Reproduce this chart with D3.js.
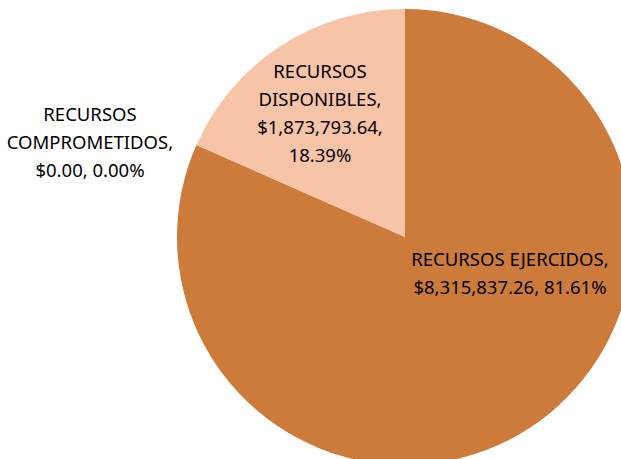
<!DOCTYPE html>
<html>
<head>
<meta charset="utf-8">
<script src="https://cdn.jsdelivr.net/npm/d3@7/dist/d3.min.js"></script>
<style>
body { margin: 0; background: #fff; }
</style>
</head>
<body>
<script>
var width = 621;
var height = 459;

var categories = ["RECURSOS EJERCIDOS", "RECURSOS COMPROMETIDOS", "RECURSOS DISPONIBLES"];
var amounts = [8315837.26, 0.00, 1873793.64];
var percents = ["81.61%", "0.00%", "18.39%"];
var colors = ["#CD7B3B", "#E09A63", "#F8C4A7"];

// label lines, as they wrap in the picture
var labelLines = [
	["RECURSOS EJERCIDOS,", "$8,315,837.26, 81.61%"],
	["RECURSOS", "COMPROMETIDOS,", "$0.00, 0.00%"],
	["RECURSOS", "DISPONIBLES,", "$1,873,793.64,", "18.39%"]
];
var labelPos = [[510, 260], [90, 115], [320, 72]];

var cx = 405, cy = 237, radius = 228;
var lineHeight = 28;

var svg = d3.select("body")
.append("svg")
.attr("width", width)
.attr("height", height);

var data = categories.map(function(c, i){
	return {name: c, value: amounts[i]};
});

var pie = d3.pie()
.sort(null)
.value(function(d){ return d.value; });

var arc = d3.arc()
.innerRadius(0)
.outerRadius(radius);

var g = svg.append("g")
.attr("transform", "translate(" + cx + "," + cy + ")");

g.selectAll("path")
.data(pie(data))
.enter()
.append("path")
.attr("d", arc)
.attr("fill", function(d, i){ return colors[i]; });

var labels = svg.selectAll(".label")
.data(labelLines)
.enter()
.append("text")
.attr("class", "label")
.attr("font-family", "'Noto Sans', sans-serif")
.attr("font-size", "18.5px")
.attr("fill", "#000")
.attr("text-anchor", "middle")
.attr("x", function(d, i){ return labelPos[i][0]; })
.attr("y", function(d, i){ return labelPos[i][1]; });

labels.selectAll("tspan")
.data(function(d, i){ return d.map(function(t){ return {t: t, i: i}; }); })
.enter()
.append("tspan")
.attr("x", function(d){ return labelPos[d.i][0]; })
.attr("dy", function(d, j){ return j == 0 ? "0.35em" : lineHeight; })
.text(function(d){ return d.t; });
</script>
</body>
</html>
